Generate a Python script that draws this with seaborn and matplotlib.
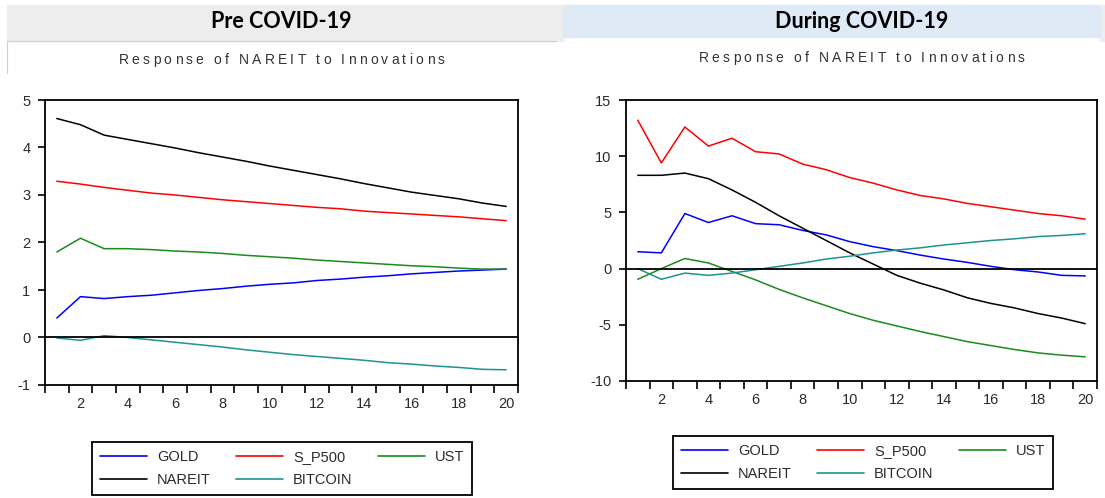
import numpy as np
import pandas as pd
import matplotlib
matplotlib.use("Agg")
import matplotlib.pyplot as plt
import seaborn as sns
from matplotlib.patches import Rectangle
from matplotlib.lines import Line2D
from matplotlib.font_manager import FontProperties

# ---- impulse responses of NAREIT, periods 1..20 ----
periods = list(range(1, 21))
series_names = ["GOLD", "S_P500", "UST", "NAREIT", "BITCOIN"]

pre_gold = [0.41, 0.86, 0.82, 0.86, 0.89, 0.94, 0.99, 1.03, 1.08, 1.12,
            1.15, 1.20, 1.23, 1.27, 1.30, 1.34, 1.37, 1.40, 1.42, 1.44]
pre_sp500 = [3.29, 3.23, 3.16, 3.10, 3.04, 3.00, 2.95, 2.90, 2.86, 2.82,
             2.78, 2.74, 2.71, 2.66, 2.63, 2.60, 2.57, 2.54, 2.50, 2.46]
pre_ust = [1.80, 2.09, 1.87, 1.87, 1.85, 1.82, 1.80, 1.77, 1.73, 1.70,
           1.67, 1.63, 1.60, 1.57, 1.54, 1.51, 1.49, 1.46, 1.44, 1.44]
pre_nareit = [4.61, 4.48, 4.26, 4.17, 4.08, 3.99, 3.89, 3.80, 3.71, 3.61,
              3.52, 3.43, 3.34, 3.24, 3.15, 3.06, 2.99, 2.92, 2.83, 2.76]
pre_bitcoin = [-0.01, -0.06, 0.04, 0.00, -0.05, -0.10, -0.15, -0.20, -0.26, -0.31,
               -0.36, -0.40, -0.44, -0.48, -0.53, -0.56, -0.60, -0.63, -0.67, -0.68]

dur_gold = [1.5, 1.4, 4.9, 4.1, 4.7, 4.0, 3.9, 3.4, 3.0, 2.4,
            1.95, 1.6, 1.2, 0.85, 0.55, 0.2, -0.1, -0.3, -0.6, -0.65]
dur_sp500 = [13.2, 9.4, 12.6, 10.9, 11.6, 10.4, 10.2, 9.3, 8.8, 8.1,
             7.6, 7.0, 6.5, 6.2, 5.8, 5.5, 5.2, 4.9, 4.7, 4.4]
dur_ust = [-0.95, 0.0, 0.9, 0.5, -0.25, -1.0, -1.85, -2.6, -3.3, -4.0,
           -4.6, -5.1, -5.6, -6.05, -6.5, -6.85, -7.2, -7.5, -7.7, -7.85]
dur_nareit = [8.3, 8.3, 8.5, 8.0, 7.0, 5.9, 4.7, 3.6, 2.5, 1.4,
              0.4, -0.6, -1.3, -1.9, -2.6, -3.1, -3.5, -4.0, -4.4, -4.9]
dur_bitcoin = [0.0, -0.95, -0.4, -0.6, -0.4, -0.1, 0.2, 0.5, 0.85, 1.1,
               1.4, 1.65, 1.85, 2.1, 2.3, 2.5, 2.65, 2.85, 2.95, 3.1]

panel_titles = ["Pre COVID-19", "During COVID-19"]
subtitle = "Response of NAREIT to Innovations"
pre_yticks = [-1, 0, 1, 2, 3, 4, 5]
dur_yticks = [-10, -5, 0, 5, 10, 15]
x_labels = [2, 4, 6, 8, 10, 12, 14, 16, 18, 20]

palette = {"GOLD": "#0000ff", "S_P500": "#ff0000", "UST": "#1a8c1a",
           "NAREIT": "#000000", "BITCOIN": "#1f9292"}


def long_frame(cols):
    parts = []
    for name, vals in zip(series_names, cols):
        parts.append(pd.DataFrame({"period": periods, "value": vals, "series": name}))
    return pd.concat(parts, ignore_index=True)


df_pre = long_frame([pre_gold, pre_sp500, pre_ust, pre_nareit, pre_bitcoin])
df_dur = long_frame([dur_gold, dur_sp500, dur_ust, dur_nareit, dur_bitcoin])

sns.set_theme(style="ticks")
plt.rcParams["font.family"] = ["Liberation Sans", "DejaVu Sans"]

W, H = 1105, 498
fig = plt.figure(figsize=(W / 100, H / 100), dpi=100)
fig.patch.set_facecolor("white")


def box(x0, y0, x1, y1):
    return [x0 / W, 1 - y1 / H, (x1 - x0) / W, (y1 - y0) / H]


# header bands
fig.patches.append(Rectangle((7 / W, 1 - 41 / H), (563 - 7) / W, 36 / H,
                             transform=fig.transFigure, color="#ededed", zorder=0))
fig.patches.append(Rectangle((1100 / W, 1 - 41 / H), 5 / W, 36 / H,
                             transform=fig.transFigure, color="#ededed", zorder=0))
fig.patches.append(Rectangle((563 / W, 1 - 37 / H), (1100 - 563) / W, 32 / H,
                             transform=fig.transFigure, color="#deeaf6", zorder=1))
# thin frame under the left header
fig.lines.append(Line2D([7 / W, 556 / W], [1 - 41.5 / H, 1 - 41.5 / H],
                        transform=fig.transFigure, color="#d0d0d0", lw=0.8))
fig.lines.append(Line2D([7 / W, 7 / W], [1 - 41.5 / H, 1 - 73 / H],
                        transform=fig.transFigure, color="#d0d0d0", lw=0.8))


def spaced_text(xc, yc, s, size, tracking_px, color):
    """Draw s centred at (xc, yc) in pixels with extra letter spacing."""
    prop = FontProperties(family=["Liberation Sans", "DejaVu Sans"], size=size)
    r = fig.canvas.get_renderer()

    def wid(t):
        return r.get_text_width_height_descent(t, prop, ismath=False)[0]

    widths = []
    for ch in s:
        if ch == " ":
            widths.append(wid("a a") - wid("aa"))
        else:
            widths.append(wid(ch))
    total = sum(widths) + tracking_px * (len(s) - 1)
    x = xc - total / 2
    for ch, w in zip(s, widths):
        if ch != " ":
            fig.text(x / W, 1 - yc / H, ch, fontproperties=prop, color=color,
                     ha="left", va="center")
        x += w + tracking_px


axes_boxes = [box(45, 100, 518, 385), box(626, 100, 1097, 381)]
frames = [df_pre, df_dur]
yticks_list = [pre_yticks, dur_yticks]
ylims = [(-1, 5), (-10, 15)]
title_y = [22, 21]
sub_y = [60, 58]
legend_anchor = [(92, 442), (673, 436)]

for i in range(2):
    ax = fig.add_axes(axes_boxes[i])
    sns.lineplot(data=frames[i], x="period", y="value", hue="series",
                 hue_order=series_names, palette=palette, estimator=None,
                 linewidth=1.1, legend=False, ax=ax)
    ax.axhline(0, color="black", lw=1.3, zorder=5)
    ax.set_xlim(0.5, 20.5)
    ax.set_ylim(*ylims[i])
    ax.set_xlabel("")
    ax.set_ylabel("")
    ax.set_xticks(np.arange(0.5, 21, 1))
    ax.set_xticks(x_labels, minor=True)
    ax.set_xticklabels([str(v) for v in x_labels], minor=True)
    ax.tick_params(axis="x", which="major", direction="out", length=6, width=1.2,
                   color="black", labelbottom=False)
    ax.tick_params(axis="x", which="minor", length=0, pad=9, labelsize=10.5,
                   labelcolor="#2b2b2b")
    ax.set_yticks(yticks_list[i])
    ax.set_yticklabels([str(v) for v in yticks_list[i]])
    ax.tick_params(axis="y", direction="out", length=5, width=1.2, color="black",
                   pad=5.5, labelsize=10.5, labelcolor="#2b2b2b")
    for sp in ax.spines.values():
        sp.set_visible(True)
        sp.set_color("black")
        sp.set_linewidth(1.3)
    ax.grid(False)
    ax.set_facecolor("white")

    bx = axes_boxes[i]
    xc = (bx[0] + bx[2] / 2) * W
    fig.text(xc / W, 1 - title_y[i] / H, panel_titles[i], ha="center", va="center",
             fontsize=15.5, fontweight="bold", family=["Lato", "DejaVu Sans"],
             color="black")
    spaced_text(xc, sub_y[i], subtitle, 10, 3.2, "#333333")

    order = ["GOLD", "NAREIT", "S_P500", "BITCOIN", "UST"]
    handles = [Line2D([], [], color=palette[n], lw=1.2) for n in order]
    ax_pos = legend_anchor[i]
    leg = fig.legend(handles, order, ncol=3, loc="upper left",
                     bbox_to_anchor=(ax_pos[0] / W, 1 - ax_pos[1] / H),
                     bbox_transform=fig.transFigure, frameon=True, fancybox=False,
                     edgecolor="black", framealpha=1, fontsize=10.5,
                     handlelength=3.2, handletextpad=0.7, columnspacing=1.75,
                     labelspacing=0.6, borderpad=0.55, borderaxespad=0)
    leg.get_frame().set_linewidth(1.3)
    for t in leg.get_texts():
        t.set_color("#2b2b2b")

fig.savefig("out.png", dpi=100, facecolor="white")
